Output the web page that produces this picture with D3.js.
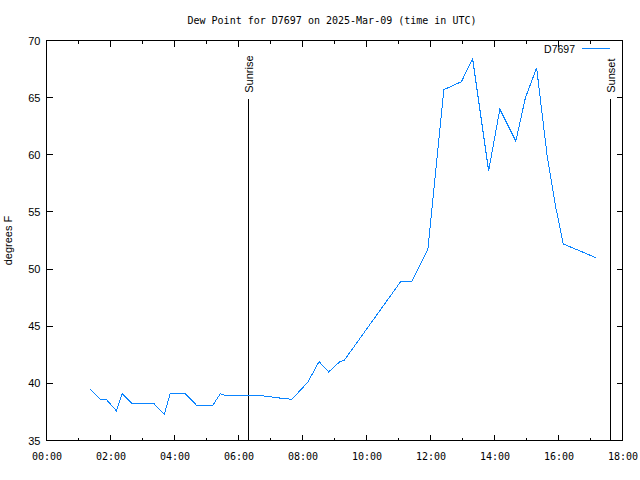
<!DOCTYPE html>
<html><head><meta charset="utf-8">
<script src="https://cdn.jsdelivr.net/npm/d3@7"></script>
<style>body{margin:0;background:#fff}svg{display:block}</style>
</head><body>
<script>
const titleText = "Dew Point for D7697 on 2025-Mar-09 (time in UTC)";
const seriesName = "D7697";
const yLabel = "degrees F";
const times = ["01:22","01:41","01:52","02:11","02:22","02:41","03:22","03:41","03:52","04:20","04:41","05:12","05:26","05:37","06:46","07:03","07:20","07:40","08:10","08:31","08:49","09:10","09:18","11:04","11:25","11:55","12:25","12:58","13:19","13:49","14:10","14:40","14:58","15:19","15:39","15:54","16:09","17:10"];
const dewpoints = [39.5,38.6,38.6,37.6,39.1,38.2,38.2,37.3,39.1,39.1,38.1,38.1,39.1,38.9,38.9,38.8,38.7,38.6,40.1,41.9,41.0,41.9,42.0,48.9,48.9,51.7,65.7,66.4,68.4,58.6,64.0,61.2,65.0,67.6,59.8,55.6,52.2,51.0];
const yTicks = [35,40,45,50,55,60,65,70];
const xTickLabels = ["00:00","02:00","04:00","06:00","08:00","10:00","12:00","14:00","16:00","18:00"];
const sunEvents = [{name:"Sunrise", time:"06:18"},{name:"Sunset", time:"17:37"}];
const sunLineTop = 64.9;

const day = "2025-03-09";
const parse = s => new Date(day + "T" + s + ":00Z");
const data = times.map((t,i)=>({t:parse(t), v:dewpoints[i]}));

const W=640,H=480;
const L=46.5,R=622.5,T=40.5,B=440.5;
const x = d3.scaleUtc().domain([parse("00:00"), parse("18:00")]).range([L,R]);
const y = d3.scaleLinear().domain([35,70]).range([B,T]);

const svg = d3.select("body").append("svg").attr("width",W).attr("height",H);
svg.append("rect").attr("width",W).attr("height",H).attr("fill","#fff");

const mono = "'DejaVu Sans Mono', monospace";
const sans = "'Liberation Sans', Arial, sans-serif";

svg.append("text").attr("x",332).attr("y",24).attr("text-anchor","middle")
  .attr("font-family",mono).attr("font-size",10).text(titleText);

const majorHours = d3.utcHour.every(2).range(parse("00:00"), new Date(parse("18:00").getTime()+1));
const minorHours = d3.utcHour.every(1).range(parse("00:00"), new Date(parse("18:00").getTime()+1));

const gx = svg.append("g").attr("transform",`translate(0,${B})`)
  .call(d3.axisBottom(x).tickValues(majorHours).tickSize(0).tickPadding(12)
    .tickFormat((d,i)=>xTickLabels[i]));
gx.select(".domain").remove();
gx.selectAll("text").attr("font-family",mono).attr("font-size",10).attr("fill","#000");

const gy = svg.append("g").attr("transform",`translate(${L},0)`)
  .call(d3.axisLeft(y).tickValues(yTicks).tickSize(0).tickPadding(6).tickFormat(d3.format("d")));
gy.select(".domain").remove();
gy.selectAll("text").attr("font-family",sans).attr("font-size",11).attr("fill","#000");

const tickG = svg.append("g").attr("stroke","#000").attr("stroke-width",1).attr("shape-rendering","crispEdges");
yTicks.forEach(v=>{
  const yy=Math.round(y(v)-0.5)+0.5;
  tickG.append("line").attr("x1",L).attr("x2",L+6).attr("y1",yy).attr("y2",yy);
  tickG.append("line").attr("x1",R).attr("x2",R-6).attr("y1",yy).attr("y2",yy);
});
minorHours.forEach((h,i)=>{
  const xx=Math.round(x(h)-0.5)+0.5;
  const len = (i%2===0)?6:3;
  tickG.append("line").attr("x1",xx).attr("x2",xx).attr("y1",B).attr("y2",B-len);
  tickG.append("line").attr("x1",xx).attr("x2",xx).attr("y1",T).attr("y2",T+len);
});
svg.append("rect").attr("x",L).attr("y",T).attr("width",R-L).attr("height",B-T)
  .attr("fill","none").attr("stroke","#000").attr("shape-rendering","crispEdges");

svg.append("text").attr("transform",`translate(12,${(T+B)/2}) rotate(-90)`).attr("text-anchor","middle")
  .attr("font-family",sans).attr("font-size",11).text(yLabel);

sunEvents.forEach(s=>{
  const xx=Math.round(x(parse(s.time))-0.5)+0.5;
  svg.append("line").attr("x1",xx).attr("x2",xx).attr("y1",y(35)).attr("y2",y(sunLineTop))
    .attr("stroke","#000").attr("shape-rendering","crispEdges");
  svg.append("text").attr("transform",`translate(${xx+4},${y(sunLineTop)-6}) rotate(-90)`)
    .attr("font-family",sans).attr("font-size",11).text(s.name);
});

const line = d3.line().x(d=>x(d.t)).y(d=>y(d.v));
svg.append("path").datum(data).attr("d",line).attr("fill","none")
  .attr("stroke","#0a84ff").attr("stroke-width",1).attr("shape-rendering","crispEdges");

svg.append("text").attr("x",575).attr("y",53).attr("text-anchor","end")
  .attr("font-family",sans).attr("font-size",10.5).text(seriesName);
svg.append("line").attr("x1",582).attr("x2",610).attr("y1",48.5).attr("y2",48.5)
  .attr("stroke","#0a84ff").attr("shape-rendering","crispEdges");
</script>
</body></html>
